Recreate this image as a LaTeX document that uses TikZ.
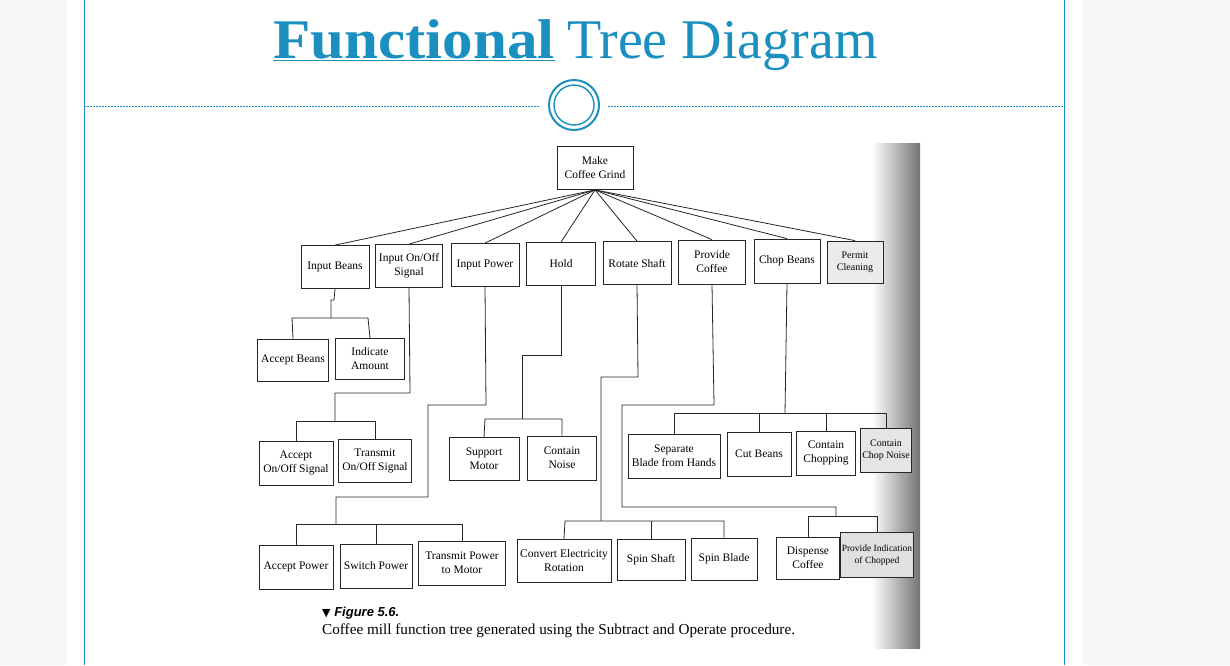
\documentclass[tikz,border=0pt]{standalone}
\usepackage{fontspec}
\setmainfont{Liberation Serif}
\newfontfamily\capsans{Liberation Sans}
\newfontfamily\djv{DejaVu Sans}
\begin{document}
\begin{tikzpicture}[x=1pt,y=-1pt,
  box/.style={draw=black!85,line width=0.8pt,fill=white,align=center,inner sep=1pt,font=\fontsize{11.5}{14}\selectfont},
  sbox/.style={box,font=\fontsize{10}{12}\selectfont},
  ln/.style={draw=black!85,line width=0.8pt}]
\definecolor{tblue}{HTML}{1A8FC0}
\useasboundingbox (0,0) rectangle (1230,665);
\fill[black!3] (0,0) rectangle (1230,665);
\fill[white] (67,0) rectangle (1083,665);
\draw[tblue,line width=0.8pt] (84,0) -- (84,665) (1064,0) -- (1064,665);
\draw[tblue,dashed,dash pattern=on 2pt off 1pt,line width=0.6pt] (84,106) -- (540,106) (608,106) -- (1064,106);
\node[circle,draw=tblue,line width=2pt,minimum size=50,inner sep=0] (ring) at (574,105) {};
\node[circle,draw=tblue,line width=1.4pt,minimum size=40,inner sep=0] (ringin) at (574,105) {};
\node[anchor=base west,text=tblue,inner sep=0,font=\fontsize{56}{60}\selectfont\bfseries] (t1) at (273,58) {\underline{\scalebox{1.09}[1]{Functional}}};
\node[anchor=base west,text=tblue,inner sep=0,font=\fontsize{56}{60}\selectfont] (t2) at (567,58) {Tree Diagram};
% scan area
\fill[white] (236,143) rectangle (920,648);
\shade[left color=white,right color=black!55] (872,143) rectangle (920,648);
% nodes
\node[box,minimum width=76,minimum height=43] (top) at (595,168) {Make\\Coffee Grind};
\node[box,minimum width=68,minimum height=43] (ib) at (335,267) {Input Beans};
\node[box,minimum width=67,minimum height=43] (io) at (409,266) {Input On/Off\\Signal};
\node[box,minimum width=68,minimum height=43] (ip) at (485,265) {Input Power};
\node[box,minimum width=69,minimum height=43] (ho) at (561,264) {Hold};
\node[box,minimum width=68,minimum height=43] (rs) at (637,263) {Rotate Shaft};
\node[box,minimum width=67,minimum height=44] (pc) at (712,262) {Provide\\Coffee};
\node[box,minimum width=66,minimum height=44] (cb) at (787,261) {Chop Beans};
\node[sbox,minimum width=56,minimum height=42,fill=black!8] (pcl) at (855,262) {Permit\\Cleaning};
\node[box,minimum width=71,minimum height=42] (ab) at (293,360) {Accept Beans};
\node[box,minimum width=69,minimum height=41] (ia) at (370,359) {Indicate\\Amount};
\node[box,minimum width=74,minimum height=44] (ao) at (296,463) {Accept\\On/Off Signal};
\node[box,minimum width=73,minimum height=43] (to) at (375,461) {Transmit\\On/Off Signal};
\node[box,minimum width=70,minimum height=43] (sm) at (484,459) {Support\\Motor};
\node[box,minimum width=69,minimum height=44] (cn) at (562,458) {Contain\\Noise};
\node[box,minimum width=92,minimum height=44] (sb) at (674,456) {Separate\\Blade from Hands};
\node[box,minimum width=64,minimum height=44] (cu) at (759,454) {Cut Beans};
\node[box,minimum width=59,minimum height=44] (cc) at (826,453) {Contain\\Chopping};
\node[sbox,minimum width=51,minimum height=44,fill=black!10] (cnz) at (886,450) {Contain\\Chop Noise};
\node[box,minimum width=74,minimum height=44] (ap) at (296,567) {Accept Power};
\node[box,minimum width=72,minimum height=44] (sp) at (376,566) {Switch Power};
\node[box,minimum width=87,minimum height=44] (tp) at (462,563) {Transmit Power\\to Motor};
\node[box,minimum width=94,minimum height=43] (ce) at (564,561) {Convert Electricity\\Rotation};
\node[box,minimum width=68,minimum height=41] (ss) at (651,560) {Spin Shaft};
\node[box,minimum width=66,minimum height=42] (sbl) at (724,559) {Spin Blade};
\node[box,minimum width=63,minimum height=42] (dc) at (808,558) {Dispense\\Coffee};
\node[sbox,font=\fontsize{9.5}{11.5}\selectfont,minimum width=70,minimum height=45,fill=black!12] (pi) at (877,555) {Provide Indication\\of Chopped};
% top connectors
\foreach \n in {ib,io,ip,ho,rs,pc,cb,pcl} \draw[ln] (top.south) -- (\n.north);
% Input Beans
\draw[ln] (ib.south) -- (334,300) -- (331,300) -- (331,318);
\draw[ln] (ab.north) -- (292,318) -- (368,318) -- (ia.north);
% Input On/Off
\draw[ln] (io.south) -- (410,393) -- (335,393) -- (335,421);
\draw[ln] (ao.north) -- (296,421) -- (375,421) -- (to.north);
% Input Power
\draw[ln] (ip.south) -- (486,405) -- (428,405) -- (428,497) -- (336,497) -- (336,524);
\draw[ln] (ap.north) -- (296,524) -- (462,524) -- (tp.north);
\draw[ln] (sp.north) -- (376,524);
% Hold
\draw[ln] (ho.south) -- (561,355) -- (522,355) -- (522,419);
\draw[ln] (sm.north) -- (485,419) -- (562,419) -- (cn.north);
% Rotate Shaft
\draw[ln] (rs.south) -- (638,377) -- (601,377) -- (601,521);
\draw[ln] (ce.north) -- (565,521) -- (724,521) -- (sbl.north);
\draw[ln] (ss.north) -- (651,521);
% Provide Coffee
\draw[ln] (pc.south) -- (714,405) -- (622,405) -- (622,507) -- (836,507) -- (836,516);
\draw[ln] (dc.north) -- (808,516) -- (877,516) -- (pi.north);
% Chop Beans
\draw[ln] (cb.south) -- (785,413);
\draw[ln] (sb.north) -- (674,413) -- (886,413) -- (cnz.north);
\draw[ln] (cu.north) -- (759,413);
\draw[ln] (cc.north) -- (826,413);
% caption
\node[anchor=base west,inner sep=0,font=\capsans\bfseries\itshape\fontsize{13}{15}\selectfont] (cap1) at (322,616) {{\djv\upshape\fontsize{11}{13}\selectfont ▼} Figure 5.6.};
\node[anchor=base west,inner sep=0,font=\fontsize{15.2}{17}\selectfont] (cap2) at (322,634) {Coffee mill function tree generated using the Subtract and Operate procedure.};
\end{tikzpicture}
\end{document}
